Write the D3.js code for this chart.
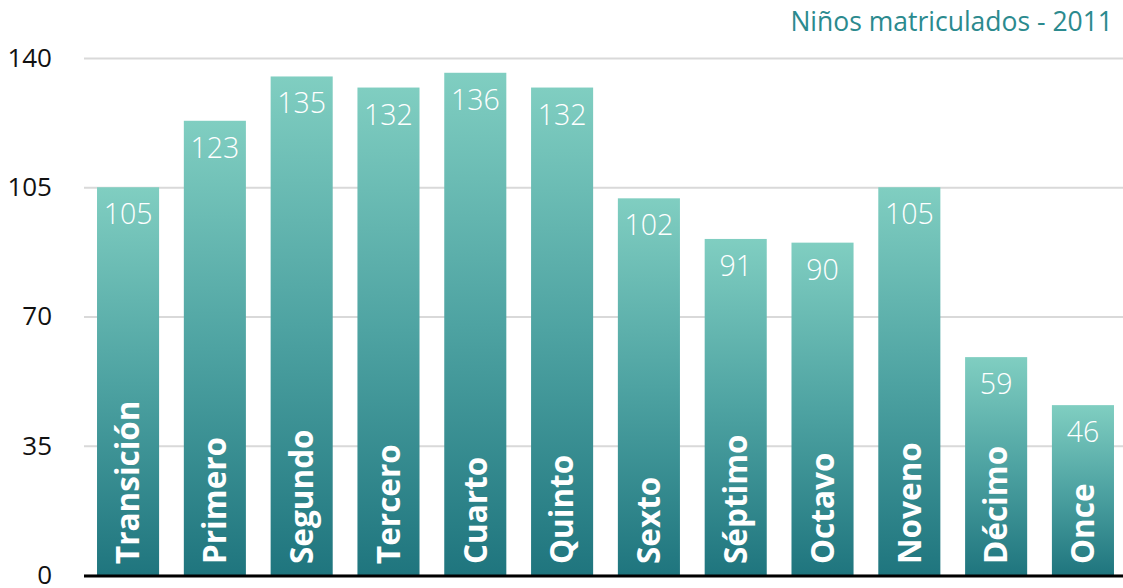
<!DOCTYPE html>
<html>
<head>
<meta charset="utf-8">
<script src="https://cdn.jsdelivr.net/npm/d3@7"></script>
<style>
  html, body { margin: 0; padding: 0; background: #fff; }
  svg { display: block; }
</style>
</head>
<body>
<svg id="chart" width="1123" height="588"></svg>
<script>
const categories = ["Transición","Primero","Segundo","Tercero","Cuarto","Quinto","Sexto","Séptimo","Octavo","Noveno","Décimo","Once"];
const values = [105,123,135,132,136,132,102,91,90,105,59,46];
const yTicks = [0,35,70,105,140];
const title = "Niños matriculados - 2011";

const svg = d3.select("#chart");
const plotLeft = 84, plotRight = 1123, plotTop = 58, plotBottom = 575;

const x = d3.scaleBand().domain(categories).range([plotLeft, plotRight + 4]).paddingInner(0.285).paddingOuter(0.15);
const y = d3.scaleLinear().domain([0, 140]).range([plotBottom, plotTop]);

const defs = svg.append("defs");
const grad = defs.append("linearGradient").attr("id", "barGrad")
  .attr("x1", 0).attr("y1", 0).attr("x2", 0).attr("y2", 1);
grad.append("stop").attr("offset", "0%").attr("stop-color", "#80cec1");
grad.append("stop").attr("offset", "50%").attr("stop-color", "#4ea3a2");
grad.append("stop").attr("offset", "100%").attr("stop-color", "#1f757e");

// grid
const axisG = svg.append("g").attr("transform", `translate(${plotLeft},0)`)
  .call(d3.axisLeft(y).tickValues(yTicks).tickSize(-(plotRight - plotLeft)).tickPadding(32).tickFormat(d3.format("d")));
axisG.select(".domain").remove();
axisG.selectAll(".tick line").attr("stroke", "#d9d9d9").attr("stroke-width", 2);
axisG.selectAll(".tick text")
  .attr("font-family", "'Open Sans', sans-serif").attr("font-size", 26).attr("fill", "#111");

// bars
svg.append("g").selectAll("rect").data(categories).join("rect")
  .attr("x", d => x(d)).attr("width", x.bandwidth())
  .attr("y", (d, i) => y(values[i])).attr("height", (d, i) => y(0) - y(values[i]))
  .attr("fill", "url(#barGrad)");

// baseline
svg.append("line").attr("x1", plotLeft).attr("x2", plotRight).attr("y1", y(0) + 1).attr("y2", y(0) + 1)
  .attr("stroke", "#000").attr("stroke-width", 3);

// value labels
svg.append("g").selectAll("text").data(categories).join("text")
  .attr("x", d => x(d) + x.bandwidth() / 2)
  .attr("y", (d, i) => y(values[i]) + 37)
  .attr("text-anchor", "middle")
  .attr("font-family", "'Open Sans', sans-serif").attr("font-size", 28.5).attr("font-weight", 300)
  .attr("fill", "#fff")
  .text((d, i) => values[i]);

// category labels
svg.append("g").selectAll("text").data(categories).join("text")
  .attr("transform", d => `translate(${x(d) + x.bandwidth() / 2},${y(0) - 11}) rotate(-90)`)
  .attr("dy", "0.36em")
  .attr("text-anchor", "start")
  .attr("font-family", "'Open Sans', sans-serif").attr("font-size", 31.5).attr("font-weight", 700)
  .attr("fill", "#fff")
  .text(d => d);

// title
svg.append("text").attr("x", 1113).attr("y", 31).attr("text-anchor", "end")
  .attr("font-family", "'Open Sans', sans-serif").attr("font-size", 26.5)
  .attr("fill", "#2b8a8e").text(title);
</script>
</body>
</html>
